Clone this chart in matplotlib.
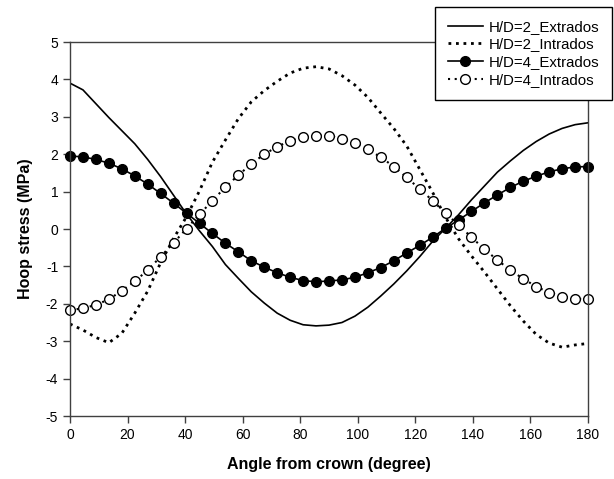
import numpy as np
import matplotlib.pyplot as plt

plt.rcParams['font.family'] = ['Liberation Sans', 'DejaVu Sans']
plt.rcParams['axes.unicode_minus'] = False

# angle from crown, 4.5 degree steps (41 nodes)
angle = np.linspace(0, 180, 41)

hd2_extrados = [3.90, 3.72, 3.35, 2.98, 2.63, 2.28, 1.86, 1.40, 0.90, 0.40,
                -0.05, -0.47, -0.95, -1.32, -1.68, -1.98, -2.25, -2.44, -2.56, -2.59,
                -2.57, -2.50, -2.33, -2.09, -1.79, -1.47, -1.12, -0.74, -0.33, 0.02,
                0.38, 0.78, 1.15, 1.52, 1.82, 2.10, 2.34, 2.54, 2.69, 2.79, 2.84]
hd2_intrados = [-2.54, -2.70, -2.90, -3.04, -2.79, -2.25, -1.66, -0.90, -0.25, 0.33,
                1.02, 1.79, 2.38, 2.95, 3.40, 3.70, 3.95, 4.17, 4.30, 4.34,
                4.28, 4.10, 3.85, 3.52, 3.10, 2.69, 2.22, 1.60, 0.98, 0.31,
                -0.26, -0.72, -1.15, -1.60, -2.05, -2.46, -2.82, -3.05, -3.16, -3.10, -3.06]
hd4_extrados = [1.95, 1.93, 1.86, 1.76, 1.61, 1.42, 1.20, 0.95, 0.69, 0.42,
                0.15, -0.12, -0.38, -0.61, -0.85, -1.02, -1.17, -1.29, -1.38, -1.41,
                -1.39, -1.36, -1.29, -1.17, -1.03, -0.85, -0.64, -0.44, -0.22, 0.02,
                0.24, 0.47, 0.70, 0.91, 1.11, 1.28, 1.41, 1.53, 1.61, 1.66, 1.67]
hd4_intrados = [-2.17, -2.12, -2.03, -1.88, -1.65, -1.40, -1.10, -0.74, -0.37, 0.01,
                0.39, 0.76, 1.12, 1.44, 1.74, 2.00, 2.20, 2.36, 2.45, 2.50,
                2.49, 2.42, 2.29, 2.13, 1.92, 1.67, 1.38, 1.07, 0.76, 0.42,
                0.11, -0.22, -0.54, -0.83, -1.10, -1.33, -1.54, -1.70, -1.81, -1.86, -1.88]

fig = plt.figure(figsize=(6.14, 4.79), dpi=100)
ax = fig.add_axes([0.114, 0.1315, 0.8437, 0.7808])

ax.plot(angle, hd2_extrados, color='black', lw=1.2, label='H/D=2_Extrados')
ax.plot(angle, hd2_intrados, color='black', lw=2.0, linestyle=(0, (1, 1.7)),
        label='H/D=2_Intrados')
ax.plot(angle, hd4_extrados, color='black', lw=1.2, marker='o', markersize=7,
        markerfacecolor='black', clip_on=False, label='H/D=4_Extrados')
ax.plot(angle, hd4_intrados, color='black', lw=1.5, linestyle=(0, (1, 2.2)),
        marker='o', markersize=7, markerfacecolor='white', markeredgewidth=1.0,
        clip_on=False, label='H/D=4_Intrados')

ax.set_xlim(0, 180)
ax.set_ylim(-5, 5)
ax.set_xticks(np.arange(0, 181, 20))
ax.set_yticks(np.arange(-5, 6, 1))
ax.tick_params(direction='out', length=5, width=1, color='#404040', labelsize=10)
for s in ax.spines.values():
    s.set_color('#404040')
    s.set_linewidth(1)

ax.set_xlabel('Angle from crown (degree)', fontsize=11.5, fontweight='bold', labelpad=11)
ax.set_ylabel('Hoop stress (MPa)', fontsize=11.5, fontweight='bold', labelpad=9)

leg = fig.legend(loc='upper right', bbox_to_anchor=(612 / 614, 1 - 7 / 479),
                 fontsize=10.8, frameon=True, fancybox=False, framealpha=1,
                 edgecolor='black', handlelength=2.3, handletextpad=0.4,
                 labelspacing=0.25, borderpad=0.85, borderaxespad=0)
leg.get_frame().set_linewidth(1)

fig.savefig('out.png', dpi=100)
